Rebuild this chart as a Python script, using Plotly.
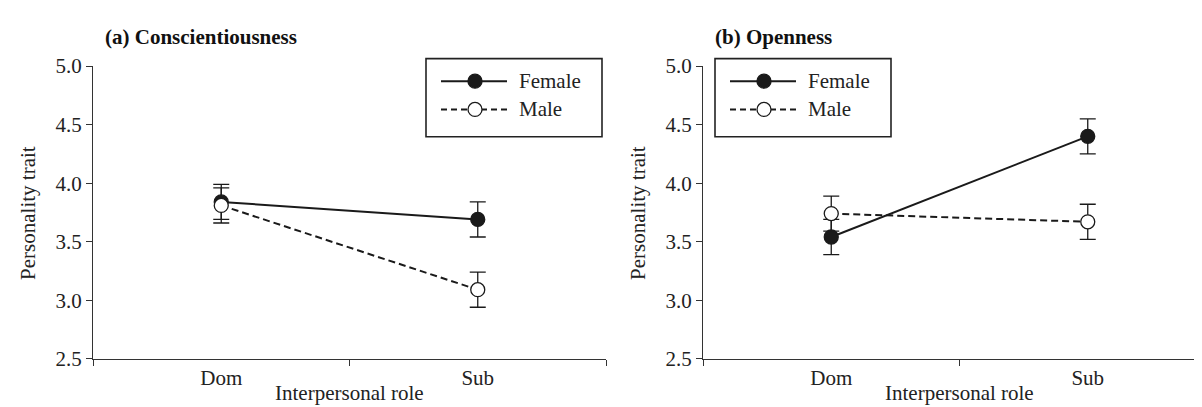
import plotly.graph_objects as go

# ---------------- data ----------------
roles = ["Dom", "Sub"]
consc_female = [3.84, 3.69]
consc_male = [3.81, 3.09]
consc_female_se = [0.15, 0.15]
consc_male_se = [0.15, 0.15]
open_female = [3.54, 4.40]
open_male = [3.74, 3.67]
open_female_se = [0.15, 0.15]
open_male_se = [0.15, 0.15]
y_ticks = [2.5, 3.0, 3.5, 4.0, 4.5, 5.0]
series_names = ["Female", "Male"]
panel_titles = ["<b>(a) Conscientiousness</b>", "<b>(b) Openness</b>"]
x_title = "Interpersonal role"
y_title = "Personality trait"

# ---------------- style ----------------
W, H = 1202, 407
FONT = "Liberation Serif, Times New Roman, serif"
INK = "#1a1a1a"
AX = "#333333"
DASH = "7px,4px"


def px(x):
    return x / W


def py(y):
    return 1 - y / H


fig = go.Figure()


def add_series(y, err, filled, dash, xa, ya):
    fig.add_trace(go.Scatter(
        x=roles, y=y, mode="lines+markers",
        xaxis=xa, yaxis=ya, showlegend=False,
        line=dict(color=INK, width=2, dash=dash),
        marker=dict(size=14, symbol="circle",
                    color=INK if filled else "white",
                    line=dict(color=INK, width=1.3)),
        error_y=dict(type="data", array=err, visible=True,
                     color=INK, thickness=1.3, width=8),
    ))


add_series(consc_female, consc_female_se, True, "solid", "x", "y")
add_series(consc_male, consc_male_se, False, DASH, "x", "y")
add_series(open_female, open_female_se, True, "solid", "x2", "y2")
add_series(open_male, open_male_se, False, DASH, "x2", "y2")

ydom = [py(360), py(49)]
axis_common = dict(
    showline=True, linecolor=AX, linewidth=1.3, ticks="outside",
    ticklen=6, tickwidth=1.2, tickcolor=AX, showgrid=False, zeroline=False,
    tickfont=dict(family=FONT, size=21, color="#222"),
)
xa = dict(type="category", tickson="boundaries", **axis_common)
ya = dict(range=[2.5, 5.0], tickvals=y_ticks, tickformat=".1f", **axis_common)

unit = (598 - 85) / 2.0
fig.update_layout(
    width=W, height=H,
    margin=dict(l=0, r=0, t=0, b=0),
    paper_bgcolor="white", plot_bgcolor="white",
    xaxis=dict(domain=[px(85), px(598)], range=[-0.5, 1.5], anchor="y", **xa),
    yaxis=dict(domain=ydom, anchor="x", **ya),
    xaxis2=dict(domain=[px(695), 1.0], range=[-0.5, -0.5 + (W - 695) / unit],
                anchor="y2", **xa),
    yaxis2=dict(domain=ydom, anchor="x2", **ya),
    showlegend=False,
)

annotations = []
shapes = []
for i, off in enumerate([0, 610]):
    # panel title
    annotations.append(dict(text=panel_titles[i], x=px(95 + off), y=py(18),
                            xref="paper", yref="paper", xanchor="left",
                            yanchor="middle", showarrow=False,
                            font=dict(family=FONT, size=21, color="#111")))
    # axis titles
    annotations.append(dict(text=x_title, x=px(341.5 + off), y=py(396),
                            xref="paper", yref="paper", xanchor="center",
                            yanchor="middle", showarrow=False,
                            font=dict(family=FONT, size=21, color="#222")))
    annotations.append(dict(text=y_title, x=px(20 + off), y=py(205),
                            xref="paper", yref="paper", xanchor="center",
                            yanchor="middle", showarrow=False, textangle=-90,
                            font=dict(family=FONT, size=21, color="#222")))

# legend boxes (panel a on the right, panel b on the left)
for bx in [418, 707]:
    shapes.append(dict(type="rect", xref="paper", yref="paper",
                       x0=px(bx), x1=px(bx + 176), y0=py(124), y1=py(41),
                       line=dict(color="#222", width=1.6), fillcolor="white",
                       layer="above"))
    for j, (name, ry) in enumerate(zip(series_names, [65, 95])):
        shapes.append(dict(type="line", xref="paper", yref="paper",
                           x0=px(bx + 15), x1=px(bx + 81), y0=py(ry), y1=py(ry),
                           line=dict(color=INK, width=2,
                                     dash="solid" if j == 0 else "6px,4px"),
                           layer="above"))
        shapes.append(dict(type="circle", xref="paper", yref="paper",
                           xsizemode="pixel", ysizemode="pixel",
                           xanchor=px(bx + 49), yanchor=py(ry),
                           x0=-7, x1=7, y0=-7, y1=7,
                           fillcolor=INK if j == 0 else "white",
                           line=dict(color=INK, width=1.3), layer="above"))
        annotations.append(dict(text=name, x=px(bx + 91), y=py(ry),
                                xref="paper", yref="paper", xanchor="left",
                                yanchor="middle", showarrow=False,
                                font=dict(family=FONT, size=21, color="#222")))

fig.update_layout(annotations=annotations, shapes=shapes)
fig.write_html("out.html")
